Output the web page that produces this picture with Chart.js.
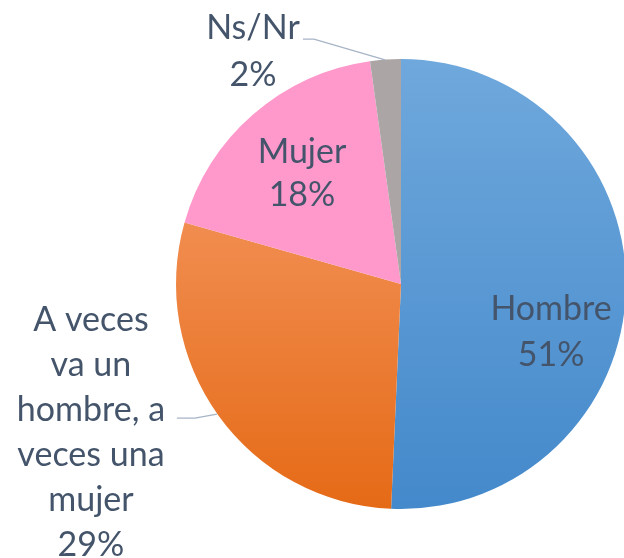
<!DOCTYPE html>
<html><head><meta charset="utf-8">
<script src="https://cdn.jsdelivr.net/npm/chart.js@4/dist/chart.umd.min.js"></script>
<style>
html,body{margin:0;padding:0;background:#fff;overflow:hidden;}
#wrap{position:relative;width:660px;height:558px;}
</style></head><body>
<div id="wrap"><canvas id="c"></canvas></div>
<script>
const categories = ["Hombre", "A veces va un hombre, a veces una mujer", "Mujer", "Ns/Nr"];
const values = [50.7, 28.7, 18.4, 2.2];
const labelLines = [["Hombre"], ["A veces", "va un", "hombre, a", "veces una", "mujer"], ["Mujer"], ["Ns/Nr"]];

const FONT = "Lato, 'Open Sans', sans-serif";
const TEXT = "#44546a";

function fillFor(ctx) {
  const chart = ctx.chart;
  const a = chart.chartArea;
  if (!a) return "#999";
  const c = chart.ctx;
  const i = ctx.dataIndex;
  if (i === 0) {
    const g = c.createLinearGradient(0, a.top, 0, a.bottom);
    g.addColorStop(0, "#6fa8dc"); g.addColorStop(1, "#4489cb");
    return g;
  }
  if (i === 1) {
    const g = c.createLinearGradient(0, a.top + a.height * 0.36, 0, a.bottom);
    g.addColorStop(0, "#f18d50"); g.addColorStop(1, "#e56a16");
    return g;
  }
  if (i === 2) return "#ff99cc";
  return "#aba6a5";
}

// label placement (offsets relative to centre, in units of radius) and leader lines
const labelPos = [
  {dx: 0.667, dy: 0.215, lh: 46},
  {dx: -1.378, dy: 0.66, lh: 45},
  {dx: -0.44, dy: -0.49, lh: 43},
  {dx: -0.658, dy: -1.033, lh: 47}
];
const leaders = {
  1: [[-0.996, 0.596], [-0.916, 0.596], [-0.818, 0.578]],
  3: [[-0.436, -1.088], [-0.387, -1.088], [-0.071, -0.996]]
};

const labelPlugin = {
  id: "sliceLabels",
  afterDatasetsDraw(chart) {
    const meta = chart.getDatasetMeta(0);
    const arc = meta.data[0];
    const cx = arc.x, cy = arc.y, r = arc.outerRadius;
    const c = chart.ctx;
    c.save();
    c.strokeStyle = "#a6b4c6";
    c.lineWidth = 1.3;
    Object.keys(leaders).forEach(k => {
      const pts = leaders[k];
      c.beginPath();
      pts.forEach((p, j) => {
        const x = cx + p[0] * r, y = cy + p[1] * r;
        if (j === 0) c.moveTo(x, y); else c.lineTo(x, y);
      });
      c.stroke();
    });
    const total = values.reduce((s, v) => s + v, 0);
    c.fillStyle = TEXT;
    c.font = "34px " + FONT;
    c.textAlign = "center";
    c.textBaseline = "middle";
    labelLines.forEach((lines, i) => {
      const p = labelPos[i];
      const all = lines.concat([Math.round(values[i] / total * 100) + "%"]);
      const x = cx + p.dx * r;
      const y0 = cy + p.dy * r - (all.length - 1) * p.lh / 2;
      all.forEach((t, j) => c.fillText(t, x, y0 + j * p.lh));
    });
    c.restore();
  }
};

new Chart(document.getElementById("c"), {
  type: "pie",
  data: {
    labels: categories,
    datasets: [{
      data: values,
      backgroundColor: fillFor,
      borderWidth: 0
    }]
  },
  options: {
    responsive: true,
    maintainAspectRatio: false,
    animation: false,
    layout: {padding: {left: 176, right: 34, top: 59, bottom: 49}},
    plugins: {legend: {display: false}, tooltip: {enabled: false}}
  },
  plugins: [labelPlugin]
});
</script>
</body></html>
